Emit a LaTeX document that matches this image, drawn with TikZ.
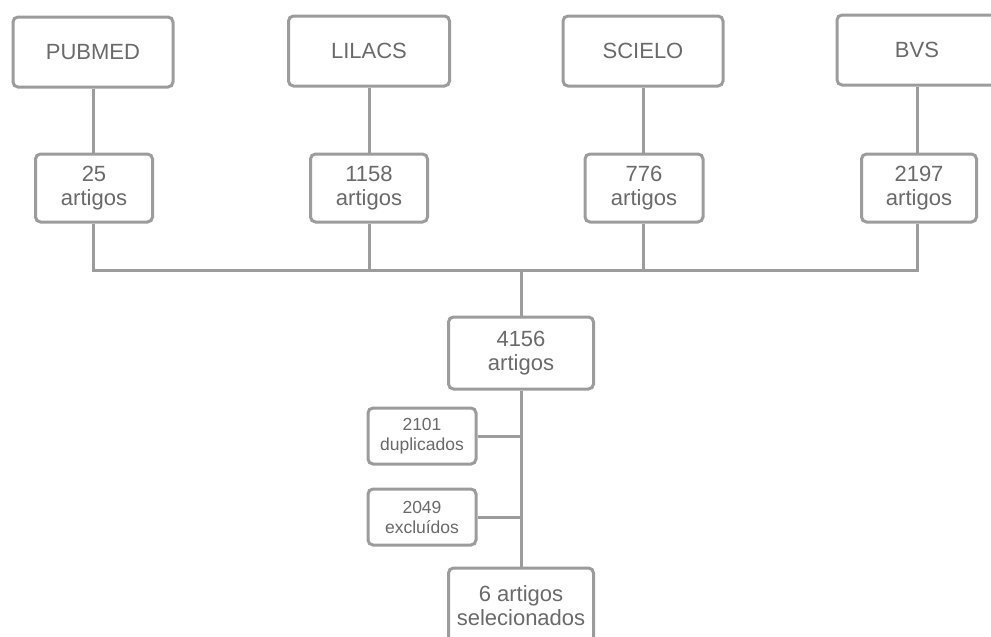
\documentclass[tikz,border=0pt]{standalone}
\usepackage{fontspec}
\setmainfont{Liberation Sans}
\definecolor{strokegray}{HTML}{9C9C9C}
\definecolor{textgray}{HTML}{6A6A6A}
\tikzset{
  box/.style={draw=strokegray, line width=3pt, rounded corners=5pt, fill=white,
    text=textgray, align=center, inner sep=0pt, font=\fontsize{22}{24}\selectfont},
  smallbox/.style={box, font=\fontsize{17.5}{20}\selectfont},
  conn/.style={draw=strokegray, line width=3pt}
}
\begin{document}
\begin{tikzpicture}[x=1pt,y=-1pt]
\useasboundingbox (0,0) rectangle (991,637);
\clip (0,0) rectangle (991,637);
% top sources
\node[box, minimum width=160pt, minimum height=70pt] (pub) at (93,52) {PUBMED};
\node[box, minimum width=161pt, minimum height=70pt] (lil) at (369,51) {LILACS};
\node[box, minimum width=160pt, minimum height=70pt] (sci) at (643,51) {SCIELO};
\node[box, minimum width=160pt, minimum height=70pt] (bvs) at (917,50) {BVS};
% counts
\node[box, minimum width=117pt, minimum height=68pt] (c1) at (94,188) {25\\artigos};
\node[box, minimum width=117pt, minimum height=68pt] (c2) at (369,188) {1158\\artigos};
\node[box, minimum width=118pt, minimum height=68pt] (c3) at (644,188) {776\\artigos};
\node[box, minimum width=115pt, minimum height=68pt] (c4) at (919,188) {2197\\artigos};
% bus
\coordinate (busL) at (93,270);
\coordinate (busR) at (917,270);
\coordinate (busM) at (521,270);
\node[box, minimum width=145pt, minimum height=72pt] (tot) at (521,353) {4156\\artigos};
\node[smallbox, minimum width=108pt, minimum height=56pt] (dup) at (422,436) {2101\\duplicados};
\node[smallbox, minimum width=108pt, minimum height=56pt] (exc) at (422,517) {2049\\excluídos};
\node[box, minimum width=145pt, minimum height=76pt] (fin) at (521,606) {6 artigos\\selecionados};
% connectors
\draw[conn] (pub.south) -- (c1.north -| pub.south);
\draw[conn] (lil.south) -- (c2.north);
\draw[conn] (sci.south) -- (sci.south |- c3.north);
\draw[conn] (bvs.south) -- (bvs.south |- c4.north);
\draw[conn] (busL |- c1.south) -- (busL) -- (busR) -- (busR |- c4.south);
\draw[conn] (c2.south) -- (c2.south |- busL);
\draw[conn] (sci.south |- c3.south) -- (sci.south |- busL);
\draw[conn] (busM) -- (tot.north);
\draw[conn] (tot.south) -- (fin.north);
\draw[conn] (dup.east) -- (dup.east -| tot.south);
\draw[conn] (exc.east) -- (exc.east -| tot.south);
\end{tikzpicture}
\end{document}
